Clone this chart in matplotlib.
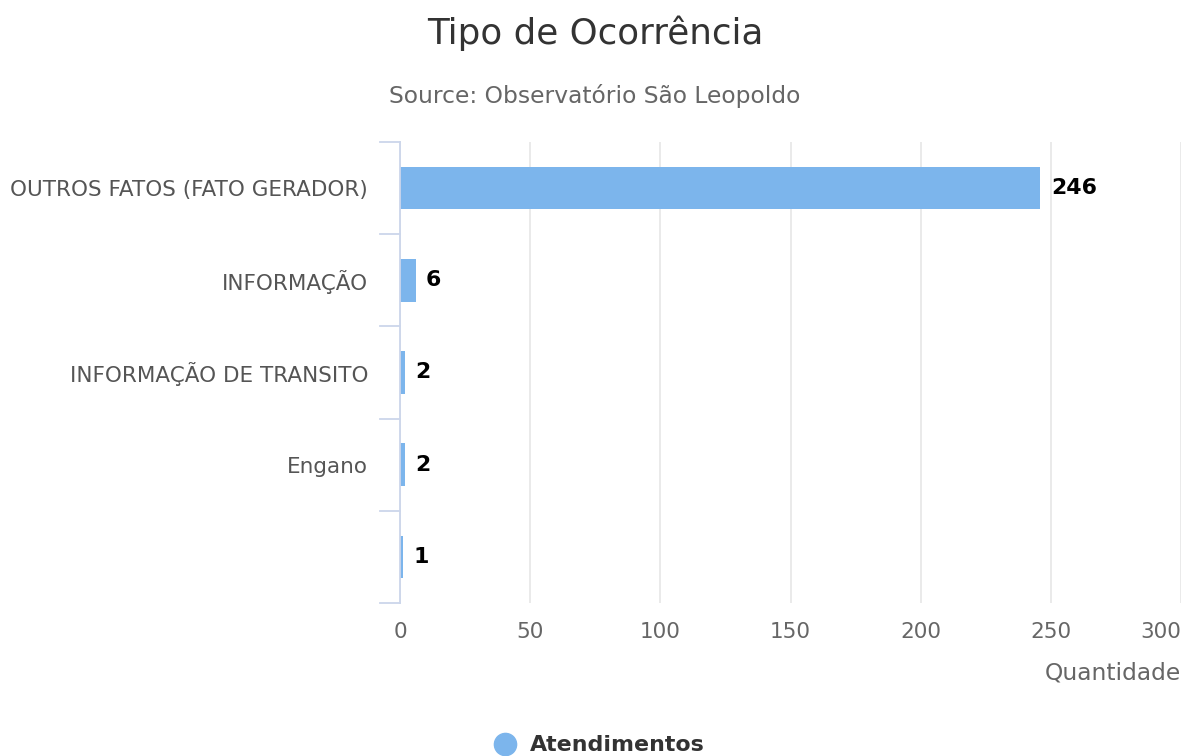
import matplotlib
matplotlib.use("Agg")
import matplotlib.pyplot as plt
from matplotlib.lines import Line2D

categories = ["OUTROS FATOS (FATO GERADOR)", "INFORMAÇÃO", "INFORMAÇÃO DE TRANSITO", "Engano", ""]
values = [246, 6, 2, 2, 1]
xticks = [0, 50, 100, 150, 200, 250, 300]

plt.rcParams['font.family'] = ['DejaVu Sans']

W, H = 1191, 756
fig = plt.figure(figsize=(W / 100, H / 100), dpi=100)
left, right, top, bottom = 400, 1181, 142, 603
ax = fig.add_axes([left / W, 1 - bottom / H, (right - left) / W, (bottom - top) / H])

n = len(categories)
ypos = list(range(n))
ax.barh(ypos, values, height=0.46, color="#7cb5ec", zorder=3)
ax.set_ylim(n - 0.5, -0.5)
ax.set_xlim(0, 300)
ax.set_xticks(xticks)
ax.set_xticklabels([str(t) for t in xticks], fontsize=15.5, color="#666666")
xl = ax.get_xticklabels()
xl[-1].set_ha("right")
ax.set_yticks(ypos)
ax.set_yticklabels(categories, fontsize=15.5, color="#555555")
ax.tick_params(axis='y', length=0, pad=23)
ax.tick_params(axis='x', length=0, pad=14)
# category boundary ticks
for b in [i - 0.5 for i in range(n + 1)]:
    ax.plot([-0.026, 0], [b, b], transform=ax.get_yaxis_transform(), color="#ccd6eb", lw=1.3, clip_on=False, zorder=4)
ax.grid(axis='x', color="#e6e6e6", lw=1.2, zorder=0)
for s in ["top", "right", "bottom"]:
    ax.spines[s].set_visible(False)
ax.spines["left"].set_color("#ccd6eb")
ax.spines["left"].set_linewidth(1.3)
ax.spines["left"].set_zorder(5)

for y, v in zip(ypos, values):
    ax.text(v + 4, y, str(v), va="center", ha="left", fontsize=15.8, fontweight="bold", color="#000000", zorder=6)

fig.text(595 / W, 1 - 33 / H, "Tipo de Ocorrência", ha="center", va="center", fontsize=25.7, color="#333333")
fig.text(595 / W, 1 - 96 / H, "Source: Observatório São Leopoldo", ha="center", va="center", fontsize=16.8, color="#666666")
fig.text(1181 / W, 1 - 673 / H, "Quantidade", ha="right", va="center", fontsize=16.8, color="#666666")

fig.lines.append(Line2D([505 / W], [1 - 744 / H], marker='o', markersize=16, color="#7cb5ec", transform=fig.transFigure, linestyle='none'))
fig.text(530 / W, 1 - 745 / H, "Atendimentos", ha="left", va="center", fontsize=15.9, fontweight="bold", color="#333333")

fig.savefig("out.png", dpi=100, facecolor="white")
